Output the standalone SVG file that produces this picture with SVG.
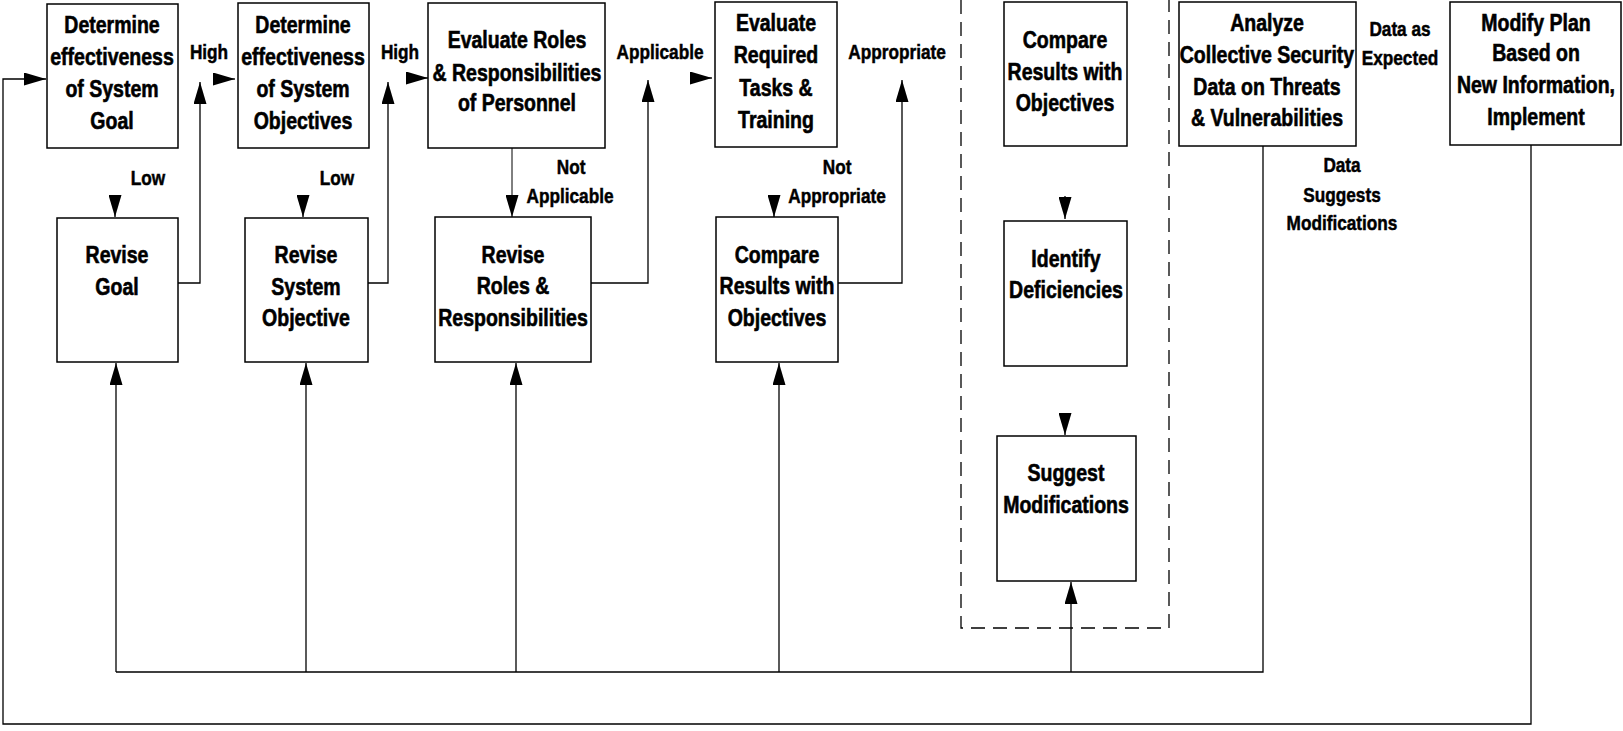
<svg xmlns="http://www.w3.org/2000/svg" width="1623" height="731" viewBox="0 0 1623 731">
<defs>
<marker id="ah" markerUnits="userSpaceOnUse" markerWidth="22" markerHeight="13" refX="22" refY="6.5" orient="auto">
<path d="M0,0 L22,6.5 L0,13 z" fill="#000"/>
</marker>
<style>
.box{fill:#fff;stroke:#000;stroke-width:1.5}
.t{font-family:"Liberation Sans",Arial,sans-serif;font-weight:bold;font-size:23.5px;text-anchor:middle;fill:#000;stroke:#000;stroke-width:0.6;transform-box:fill-box;transform-origin:center;transform:scaleX(0.83)}
.l{font-family:"Liberation Sans",Arial,sans-serif;font-weight:bold;font-size:21px;text-anchor:middle;fill:#000;stroke:#000;stroke-width:0.5;transform-box:fill-box;transform-origin:center;transform:scaleX(0.82)}
.c{fill:none;stroke:#000;stroke-width:1.3}
.a{fill:none;stroke:#000;stroke-width:1.3;marker-end:url(#ah)}
.thin{fill:none;stroke:#000;stroke-width:1;marker-end:url(#ah)}
.dash{fill:none;stroke:#000;stroke-width:1.3;stroke-dasharray:14 8}
</style>
</defs>
<rect width="1623" height="731" fill="#fff"/>

<g id="group-boundary">
<path class="dash" d="M961,0 V628 H1169 V0"/>
</g>

<g id="connectors">
<path class="a" d="M178,283 H200 V82"/>
<path class="a" d="M368,283 H388 V82"/>
<path class="a" d="M591,283 H648 V80"/>
<path class="a" d="M838,283 H902 V80"/>
<path class="a" d="M213,79 H235"/>
<path class="a" d="M407,78 H428"/>
<path class="a" d="M690,78 H712"/>
<path class="a" d="M115,195 V217"/>
<path class="a" d="M303,195 V217"/>
<path class="thin" d="M512,148 V217"/>
<path class="a" d="M774,195 V217"/>
<path class="a" d="M1065,196 V219"/>
<path class="a" d="M1065,413 V435"/>
<path class="c" d="M116,672 H1263 V146"/>
<path class="a" d="M116,672 V363"/>
<path class="a" d="M306,672 V363"/>
<path class="a" d="M516,672 V363"/>
<path class="a" d="M779,672 V363"/>
<path class="a" d="M1071,672 V582"/>
<path class="a" d="M1531,145 V724 H3 V79 H46"/>
</g>

<g id="labels">
<text class="l" x="209" y="59">High</text>
<text class="l" x="400" y="59">High</text>
<text class="l" x="148" y="185">Low</text>
<text class="l" x="337" y="185">Low</text>
<text class="l" x="660" y="59">Applicable</text>
<text class="l" x="897" y="59">Appropriate</text>
<text class="l" x="571" y="174">Not</text>
<text class="l" x="570" y="203">Applicable</text>
<text class="l" x="837" y="174">Not</text>
<text class="l" x="837" y="203">Appropriate</text>
<text class="l" x="1400" y="36">Data as</text>
<text class="l" x="1400" y="65">Expected</text>
<text class="l" x="1342" y="172">Data</text>
<text class="l" x="1342" y="202">Suggests</text>
<text class="l" x="1342" y="230">Modifications</text>
</g>

<g id="n1">
<rect class="box" x="47" y="4" width="131" height="144"/>
<text class="t" x="112" y="33">Determine</text>
<text class="t" x="112" y="65">effectiveness</text>
<text class="t" x="112" y="97">of System</text>
<text class="t" x="112" y="129">Goal</text>
</g>
<g id="n2">
<rect class="box" x="238" y="3" width="131" height="145"/>
<text class="t" x="303" y="33">Determine</text>
<text class="t" x="303" y="65">effectiveness</text>
<text class="t" x="303" y="97">of System</text>
<text class="t" x="303" y="129">Objectives</text>
</g>
<g id="n3">
<rect class="box" x="428" y="3" width="177" height="145"/>
<text class="t" x="517" y="48">Evaluate Roles</text>
<text class="t" x="517" y="81">&amp; Responsibilities</text>
<text class="t" x="517" y="111">of Personnel</text>
</g>
<g id="n4">
<rect class="box" x="715" y="2" width="122" height="145"/>
<text class="t" x="776" y="31">Evaluate</text>
<text class="t" x="776" y="63">Required</text>
<text class="t" x="776" y="96">Tasks &amp;</text>
<text class="t" x="776" y="128">Training</text>
</g>
<g id="n5">
<rect class="box" x="1004" y="2" width="123" height="144"/>
<text class="t" x="1065" y="48">Compare</text>
<text class="t" x="1065" y="80">Results with</text>
<text class="t" x="1065" y="111">Objectives</text>
</g>
<g id="n6">
<rect class="box" x="1179" y="2" width="177" height="144"/>
<text class="t" x="1267" y="31">Analyze</text>
<text class="t" x="1267" y="63">Collective Security</text>
<text class="t" x="1267" y="95">Data on Threats</text>
<text class="t" x="1267" y="126">&amp; Vulnerabilities</text>
</g>
<g id="n7">
<rect class="box" x="1450" y="2" width="171" height="143"/>
<text class="t" x="1536" y="31">Modify Plan</text>
<text class="t" x="1536" y="61">Based on</text>
<text class="t" x="1536" y="93">New Information,</text>
<text class="t" x="1536" y="125">Implement</text>
</g>
<g id="r1">
<rect class="box" x="57" y="218" width="121" height="144"/>
<text class="t" x="117" y="263">Revise</text>
<text class="t" x="117" y="295">Goal</text>
</g>
<g id="r2">
<rect class="box" x="245" y="218" width="123" height="144"/>
<text class="t" x="306" y="263">Revise</text>
<text class="t" x="306" y="295">System</text>
<text class="t" x="306" y="326">Objective</text>
</g>
<g id="r3">
<rect class="box" x="435" y="217" width="156" height="145"/>
<text class="t" x="513" y="263">Revise</text>
<text class="t" x="513" y="294">Roles &amp;</text>
<text class="t" x="513" y="326">Responsibilities</text>
</g>
<g id="r4">
<rect class="box" x="716" y="217" width="122" height="145"/>
<text class="t" x="777" y="263">Compare</text>
<text class="t" x="777" y="294">Results with</text>
<text class="t" x="777" y="326">Objectives</text>
</g>
<g id="n8">
<rect class="box" x="1004" y="221" width="123" height="145"/>
<text class="t" x="1066" y="267">Identify</text>
<text class="t" x="1066" y="298">Deficiencies</text>
</g>
<g id="n9">
<rect class="box" x="997" y="436" width="139" height="145"/>
<text class="t" x="1066" y="481">Suggest</text>
<text class="t" x="1066" y="513">Modifications</text>
</g>
</svg>
